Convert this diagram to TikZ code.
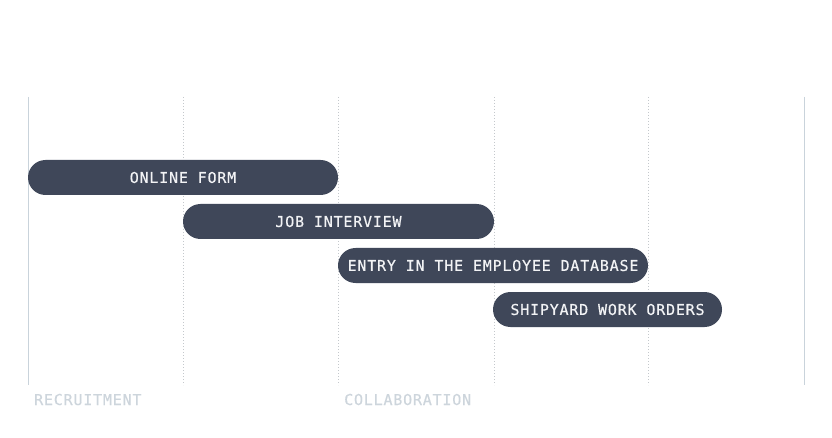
\documentclass[tikz,border=0pt]{standalone}
\usepackage{fontspec}
\newfontfamily\barfont[LetterSpace=5.3,FakeBold=0.4]{DejaVu Sans Mono}
\newfontfamily\phasefont[LetterSpace=5.3,FakeBold=0.3]{DejaVu Sans Mono}
\definecolor{barfill}{HTML}{3F4759}
\definecolor{bartext}{HTML}{F2F3F5}
\definecolor{axisline}{HTML}{C9D3DB}
\definecolor{gridline}{HTML}{C4C8CC}
\definecolor{phasetext}{HTML}{CDD5DC}
\begin{document}
\begin{tikzpicture}[x=1pt,y=-1pt,
  taskbar/.style={fill=barfill, draw=none, rounded corners=17.5pt, minimum height=35pt, inner sep=0pt, text=bartext, font=\barfont\fontsize{15}{16}\selectfont},
  phase/.style={anchor=base west, inner sep=0pt, text=phasetext, font=\phasefont\fontsize{15}{16}\selectfont},
  solidgrid/.style={draw=axisline, line width=0.9pt},
  dotgrid/.style={draw=gridline, line width=0.7pt, dash pattern=on 1.2pt off 1.8pt}]
\useasboundingbox (0,0) rectangle (832,438);
\fill[white] (0,0) rectangle (832,438);
% grid
\coordinate (g0t) at (28.5,97); \coordinate (g0b) at (28.5,385);
\coordinate (g1t) at (183.5,97); \coordinate (g1b) at (183.5,385);
\coordinate (g2t) at (338.5,97); \coordinate (g2b) at (338.5,385);
\coordinate (g3t) at (494,97); \coordinate (g3b) at (494,385);
\coordinate (g4t) at (648.5,97); \coordinate (g4b) at (648.5,385);
\coordinate (g5t) at (804,97); \coordinate (g5b) at (804,385);
\draw[solidgrid] (g0t) -- (g0b);
\draw[dotgrid] (g1t) -- (g1b);
\draw[dotgrid] (g2t) -- (g2b);
\draw[dotgrid] (g3t) -- (g3b);
\draw[dotgrid] (g4t) -- (g4b);
\draw[solidgrid] (g5t) -- (g5b);
% bars
\node[taskbar, minimum width=310pt] (t1) at (183,177.5) {ONLINE FORM};
\node[taskbar, minimum width=311pt] (t2) at (338.5,221.5) {JOB INTERVIEW};
\node[taskbar, minimum width=310pt] (t3) at (493,265.5) {ENTRY IN THE EMPLOYEE DATABASE};
\node[taskbar, minimum width=229pt] (t4) at (607.5,309.5) {SHIPYARD WORK ORDERS};
% phases
\node[phase] (p1) at (34,405) {RECRUITMENT};
\node[phase] (p2) at (344,405) {COLLABORATION};
\end{tikzpicture}
\end{document}
